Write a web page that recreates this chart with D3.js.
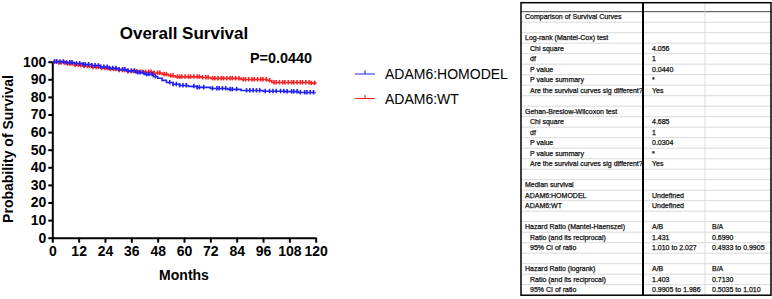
<!DOCTYPE html>
<html>
<head>
<meta charset="utf-8">
<script src="https://cdn.jsdelivr.net/npm/d3@7"></script>
<style>
  body { margin: 0; background: #fff; }
  svg { display: block; font-family: "Liberation Sans", Arial, sans-serif; }
</style>
</head>
<body>
<div id="chart"></div>
<script>
// survival steps [month, % surviving]
const homodelSteps = [
  [0, 100], [6, 99.5], [10, 99], [14, 98.4], [18, 97.8], [22, 97], [26, 96.3],
  [30, 95.6], [34, 94.8], [38, 93.8], [42, 92.8], [46, 91.6], [48, 90.6],
  [50, 89.4], [52, 88.2], [55, 87.2], [58, 86.5], [62, 86.0], [66, 85.4],
  [72, 84.8], [80, 84.3], [86, 83.6], [96, 83.2], [106, 83.0], [112, 82.5], [120, 82.5]
];
const wtSteps = [
  [0, 100], [3, 99.4], [6, 98.8], [10, 98.0], [14, 97.4], [18, 96.9], [22, 96.3],
  [26, 95.7], [30, 95.1], [34, 94.5], [40, 94.1], [46, 93.6], [50, 92.8],
  [53, 92.0], [56, 91.4], [68, 91.0], [72, 90.5], [86, 89.9], [98, 89.3],
  [100, 88.2], [118, 87.8], [120, 87.4]
];
// censored months
const homodelCensor = [1, 2, 3.5, 5, 6.5, 8, 9, 11, 12.5, 14, 15, 16.5, 18, 19.5, 21, 22,
  23.5, 25, 26, 27.5, 29, 30.5, 32, 33, 34.5, 36, 37.5, 39, 40, 41.5, 43, 44, 45.5, 47,
  53.5, 55, 56.5, 58, 59.5, 61, 64.5, 66, 67, 69, 73, 75, 76, 77.5, 79, 81, 82, 84,
  88.5, 90, 91.5, 93, 94.5, 97, 99, 100.5, 102, 104, 105.5, 107, 109, 110, 111.5,
  113, 115, 116, 117.5, 119];
const wtCensor = [1, 2, 3, 4, 5.5, 7, 8, 9, 10.5, 12, 13, 14.5, 16, 17, 18.5, 20, 21,
  22.5, 24, 25, 26.5, 28, 29, 30.5, 32, 33, 34.5, 36, 37, 38.5, 40, 41, 42.5, 44, 45,
  46.5, 48, 49, 51, 52, 54, 55, 57, 58, 59, 60.5, 62, 63, 64.5, 66, 67, 68.5, 70, 71,
  73, 74, 75.5, 77, 78, 79.5, 81, 82, 83.5, 85, 87, 88, 89.5, 91, 92, 93.5, 95, 96,
  97.5, 99, 101, 102, 103.5, 105, 106, 107.5, 109, 110, 111.5, 113, 114, 115.5, 117,
  118, 119.5];

const seriesNames = ["ADAM6:HOMODEL", "ADAM6:WT"];
const seriesColors = ["#2323f5", "#f52323"];
const xTicks = [0, 12, 24, 36, 48, 60, 72, 84, 96, 108, 120];
const yTicks = [0, 10, 20, 30, 40, 50, 60, 70, 80, 90, 100];

// results table
const tableLabels = ["", "Comparison of Survival Curves", "", "Log-rank (Mantel-Cox) test",
  "Chi square", "df", "P value", "P value summary", "Are the survival curves sig different?",
  "", "Gehan-Breslow-Wilcoxon test", "Chi square", "df", "P value", "P value summary",
  "Are the survival curves sig different?", "", "Median survival", "ADAM6:HOMODEL",
  "ADAM6:WT", "", "Hazard Ratio (Mantel-Haenszel)", "Ratio (and its reciprocal)",
  "95% CI of ratio", "", "Hazard Ratio (logrank)", "Ratio (and its reciprocal)",
  "95% CI of ratio"];
const tableColA = ["", "", "", "", "4.056", "1", "0.0440", "*", "Yes", "", "", "4.685",
  "1", "0.0304", "*", "Yes", "", "", "Undefined", "Undefined", "", "A/B", "1.431",
  "1.010 to 2.027", "", "A/B", "1.403", "0.9905 to 1.986"];
const tableColB = ["", "", "", "", "", "", "", "", "", "", "", "", "", "", "", "", "",
  "", "", "", "", "B/A", "0.6990", "0.4933 to 0.9905", "", "B/A", "0.7130",
  "0.5035 to 1.010"];
const headingRows = [1, 3, 10, 17, 18, 19, 21, 25];

const width = 772, height = 299;
const svg = d3.select("#chart").append("svg")
  .attr("width", width).attr("height", height);

const x = d3.scaleLinear().domain([0, 120]).range([52.3, 315.7]);
const y = d3.scaleLinear().domain([0, 100]).range([237.7, 61.7]);

// title + p value
svg.append("text")
  .attr("x", 184).attr("y", 39)
  .attr("text-anchor", "middle")
  .style("font-size", "17px").style("font-weight", "bold")
  .text("Overall Survival");
svg.append("text")
  .attr("x", 250).attr("y", 63)
  .style("font-size", "14.4px").style("font-weight", "bold")
  .text("P=0.0440");

// axes
const yAxis = svg.append("g")
  .attr("transform", `translate(${x(0)},0)`)
  .call(d3.axisLeft(y).tickValues(yTicks).tickSize(4).tickSizeOuter(0).tickPadding(2));
const xAxis = svg.append("g")
  .attr("transform", `translate(0,${y(0)})`)
  .call(d3.axisBottom(x).tickValues(xTicks).tickSize(5).tickSizeOuter(0).tickPadding(3));

[xAxis, yAxis].forEach((g) => {
  g.select(".domain").attr("stroke", "#000").attr("stroke-width", 2);
  g.selectAll(".tick line").attr("stroke", "#000").attr("stroke-width", 2);
  g.selectAll(".tick text")
    .attr("fill", "#000")
    .style("font-family", "'Liberation Sans', Arial, sans-serif")
    .style("font-size", "14px").style("font-weight", "bold");
});

svg.append("text")
  .attr("x", 184).attr("y", 280)
  .attr("text-anchor", "middle")
  .style("font-size", "14px").style("font-weight", "bold")
  .text("Months");
svg.append("text")
  .attr("transform", "translate(13,149) rotate(-90)")
  .attr("text-anchor", "middle")
  .style("font-size", "14px").style("font-weight", "bold")
  .text("Probability of Survival");

// curves
const line = d3.line()
  .x((d) => x(d[0]))
  .y((d) => y(d[1]))
  .curve(d3.curveStepAfter);

const survAt = (steps, t) => {
  const i = d3.bisector((d) => d[0]).right(steps, t) - 1;
  return steps[Math.max(0, i)][1];
};

const series = [
  { steps: homodelSteps, censor: homodelCensor },
  { steps: wtSteps, censor: wtCensor }
];

// draw WT first then HOMODEL on top
[1, 0].forEach((i) => {
  const s = series[i];
  svg.append("path")
    .datum(s.steps)
    .attr("d", line)
    .attr("fill", "none")
    .attr("stroke", seriesColors[i])
    .attr("stroke-width", 1.6);
  svg.append("g")
    .selectAll("line")
    .data(s.censor)
    .enter()
    .append("line")
    .attr("x1", (d) => x(d)).attr("x2", (d) => x(d))
    .attr("y1", (d) => y(survAt(s.steps, d)) - 2.5)
    .attr("y2", (d) => y(survAt(s.steps, d)) + 2)
    .attr("stroke", seriesColors[i])
    .attr("stroke-width", 1.6);
});

// legend
const legend = svg.append("g");
seriesNames.forEach((name, i) => {
  const ly = 74 + i * 24.5;
  legend.append("line")
    .attr("x1", 355).attr("x2", 375).attr("y1", ly).attr("y2", ly)
    .attr("stroke", seriesColors[i]).attr("stroke-width", 1);
  legend.append("line")
    .attr("x1", 365).attr("x2", 365).attr("y1", ly - 3.5).attr("y2", ly)
    .attr("stroke", seriesColors[i]).attr("stroke-width", 1.2);
  legend.append("text")
    .attr("x", 385).attr("y", ly + 5)
    .style("font-size", "14px")
    .text(name);
});

// table
const tx0 = 521, tx1 = 643, tx2 = 705, tx3 = 771;
const rowY = d3.scaleLinear().domain([1, 28]).range([11.7, 295.2]);
const table = svg.append("g").style("font-size", "7px");

d3.range(2, 28).forEach((k) => {
  table.append("line")
    .attr("x1", tx0).attr("x2", tx3).attr("y1", rowY(k)).attr("y2", rowY(k))
    .attr("stroke", "#d0d0d0").attr("stroke-width", 0.8);
});
table.append("line")
  .attr("x1", tx0).attr("x2", tx3).attr("y1", rowY(1)).attr("y2", rowY(1))
  .attr("stroke", "#444").attr("stroke-width", 1);
table.append("line")
  .attr("x1", tx2).attr("x2", tx2).attr("y1", 2.7).attr("y2", rowY(28))
  .attr("stroke", "#d0d0d0").attr("stroke-width", 0.8);
table.append("rect")
  .attr("x", tx0).attr("y", 2.7)
  .attr("width", tx3 - tx0).attr("height", rowY(28) - 2.7)
  .attr("fill", "none").attr("stroke", "#000").attr("stroke-width", 1.5);
table.append("line")
  .attr("x1", tx1).attr("x2", tx1).attr("y1", 2.7).attr("y2", rowY(28))
  .attr("stroke", "#000").attr("stroke-width", 2);

// slightly heavy text, like the exported table
const cell = (xPos, yPos, str) =>
  table.append("text")
    .attr("x", xPos).attr("y", yPos)
    .attr("fill", "#111")
    .attr("stroke", "#111").attr("stroke-width", 0.25)
    .text(str);

tableLabels.forEach((label, k) => {
  if (k === 0) return;
  const base = rowY(k) + 7.6;
  cell(headingRows.includes(k) ? 525 : 530, base, label);
  cell(652, base, tableColA[k]);
  cell(712, base, tableColB[k]);
});
</script>
</body>
</html>
